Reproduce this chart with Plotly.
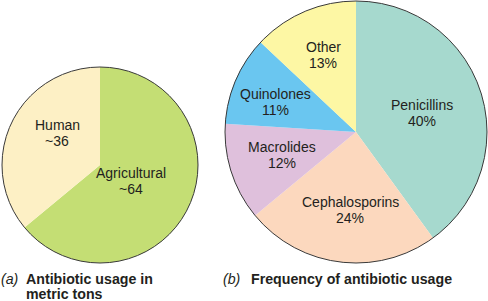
import plotly.graph_objects as go

# Data
usage_labels = ["Agricultural", "Human"]
usage_values = [64, 36]
usage_colors = ["#c4de74", "#fdf0c5"]

freq_labels = ["Penicillins", "Cephalosporins", "Macrolides", "Quinolones", "Other"]
freq_values = [40, 24, 12, 11, 13]
freq_colors = ["#a6d9ce", "#fcd8be", "#dfc0dc", "#6ac6f0", "#fdf7a4"]

W, H = 488, 301

def px_x(x):
    return x / W

def px_y(y):
    return 1 - y / H

# Pie geometry (pixels)
ca, ra = (100, 165), 98
cb, rb = (356, 132), 131

# Label placement (pixel centres of first text line), styling only
usage_label_pos = {"Agricultural": (131, 173), "Human": (57, 125)}
freq_label_pos = {"Penicillins": (422, 105), "Cephalosporins": (350, 202),
                  "Macrolides": (282, 147), "Quinolones": (275, 94), "Other": (323, 47)}
LINE = 16

fig = go.Figure()
fig.add_trace(go.Pie(
    labels=usage_labels, values=usage_values, sort=False, direction="clockwise",
    rotation=0, marker=dict(colors=usage_colors, line=dict(width=0)),
    textinfo="none",
    domain=dict(x=[px_x(ca[0] - ra), px_x(ca[0] + ra)], y=[px_y(ca[1] + ra), px_y(ca[1] - ra)]),
    hoverinfo="label+value", showlegend=False,
))
fig.add_trace(go.Pie(
    labels=freq_labels, values=freq_values, sort=False, direction="clockwise",
    rotation=0, marker=dict(colors=freq_colors, line=dict(width=0)),
    textinfo="none",
    domain=dict(x=[px_x(cb[0] - rb), px_x(cb[0] + rb)], y=[px_y(cb[1] + rb), px_y(cb[1] - rb)]),
    hoverinfo="label+value", showlegend=False,
))

shapes = []
for (cx, cy), r in [(ca, ra), (cb, rb)]:
    shapes.append(dict(type="circle", xref="paper", yref="paper",
                       x0=px_x(cx - r), x1=px_x(cx + r), y0=px_y(cy + r), y1=px_y(cy - r),
                       line=dict(color="#3a3a3a", width=1)))

FAM = "Liberation Sans, Arial"
lab_font = dict(family=FAM, size=14, color="#231f20")
ann = []

def add(text, x, y, anchor="center", font=lab_font):
    ann.append(dict(text=text, x=px_x(x), y=px_y(y), xref="paper", yref="paper",
                    xanchor=anchor, yanchor="middle", showarrow=False, font=font,
                    borderpad=0))

for lab, val in zip(usage_labels, usage_values):
    x, y = usage_label_pos[lab]
    add(lab, x, y)
    add(f"~{val}", x, y + LINE)
for lab, val in zip(freq_labels, freq_values):
    x, y = freq_label_pos[lab]
    add(lab, x, y)
    add(f"{val}%", x, y + LINE)

cap_font = dict(family=FAM, size=14.2, color="#231f20")
add("<i>(a)</i>", 0, 279, "left", cap_font)
add("<b>Antibiotic usage in</b>", 25, 279, "left", cap_font)
add("<b>metric tons</b>", 25, 294, "left", cap_font)
add("<i>(b)</i>", 222, 279, "left", cap_font)
add("<b>Frequency of antibiotic usage</b>", 250, 279, "left", cap_font)

fig.update_layout(width=W, height=H, margin=dict(l=0, r=0, t=0, b=0),
                  paper_bgcolor="white", plot_bgcolor="white",
                  shapes=shapes, annotations=ann)
fig.write_html("out.html")
